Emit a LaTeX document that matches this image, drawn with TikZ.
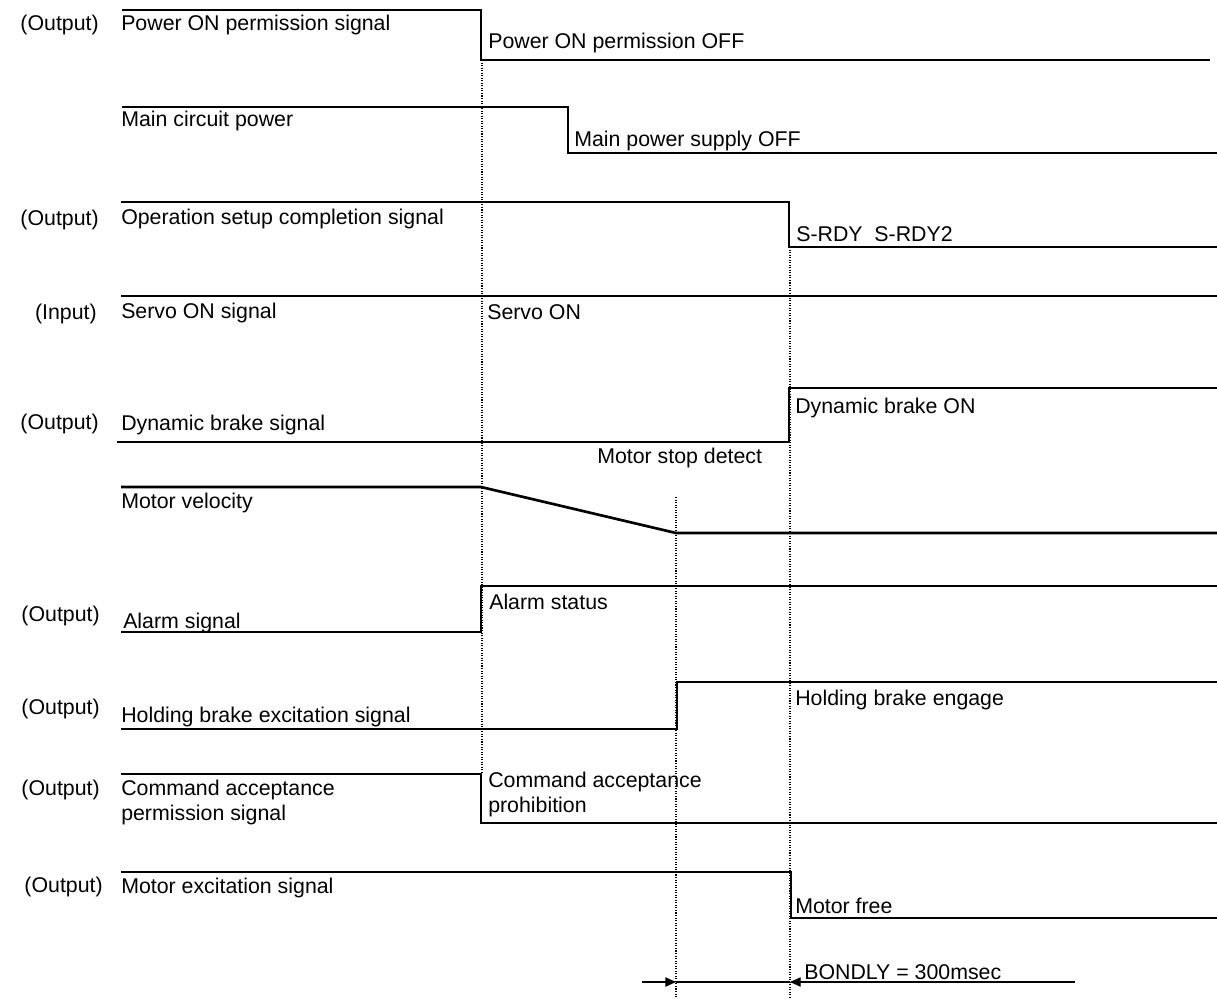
\documentclass[tikz,border=0pt]{standalone}
\usepackage{fontspec}
\setmainfont{Liberation Sans}
\usetikzlibrary{arrows.meta}
\begin{document}
\begin{tikzpicture}[x=0.75pt,y=-0.75pt,
  sig/.style={line width=2pt, line join=miter},
  guide/.style={line width=0.9pt, dash pattern=on 0.8pt off 1.1pt},
  lbl/.style={anchor=base west, inner sep=0pt, align=left,
              font=\fontsize{16}{18.75}\selectfont},
  io/.style={anchor=base east, inner sep=0pt,
             font=\fontsize{16}{18.75}\selectfont},
  dimline/.style={line width=0.8pt},
  tip/.style={-{Triangle[length=8pt,width=7pt]}}]
\useasboundingbox (0,0) rectangle (1217,999);

% dotted guides at the event instants
\draw[guide] (482,60) -- (482,774);
\draw[guide] (676,497) -- (676,999);
\draw[guide] (790,247) -- (790,999);

% Power ON permission signal
\draw[sig] (122,10) -- (481,10) -- (481,60) -- (1210,60);
\node[io]  (io1) at (99,31) {(Output)};
\node[lbl] (s1)  at (121,31) {Power ON permission signal};
\node[lbl] (e1)  at (488,49) {Power ON permission OFF};

% Main circuit power
\draw[sig] (122,107) -- (568,107) -- (568,153) -- (1217,153);
\node[lbl] (s2) at (121,127) {Main circuit power};
\node[lbl] (e2) at (574,146) {Main power supply OFF};

% Operation setup completion signal
\draw[sig] (121,202) -- (789,202) -- (789,247) -- (1217,247);
\node[io]  (io3) at (99,225) {(Output)};
\node[lbl] (s3)  at (121,224) {Operation setup completion signal};
\node[lbl] (e3)  at (796,241) {S-RDY\ \ S-RDY2};

% Servo ON signal
\draw[sig] (121,296) -- (1217,296);
\node[io]  (io4) at (97,319) {(Input)};
\node[lbl] (s4)  at (121,318) {Servo ON signal};
\node[lbl] (e4)  at (487,319) {Servo ON};

% Dynamic brake signal
\draw[sig] (117,442) -- (789,442) -- (789,388) -- (1217,388);
\node[io]  (io5) at (99,429) {(Output)};
\node[lbl] (s5)  at (121,430) {Dynamic brake signal};
\node[lbl] (e5)  at (795,413) {Dynamic brake ON};
\node[lbl] (e5b) at (597,463) {Motor stop detect};

% Motor velocity
\draw[sig] (121,487) -- (481,487) -- (676,533) -- (1217,533);
\node[lbl] (s6) at (121,508) {Motor velocity};

% Alarm signal
\draw[sig] (121,632) -- (481,632) -- (481,586) -- (1217,586);
\node[io]  (io7) at (100,621) {(Output)};
\node[lbl] (s7)  at (123,628) {Alarm signal};
\node[lbl] (e7)  at (489,609) {Alarm status};

% Holding brake excitation signal
\draw[sig] (121,729) -- (677,729) -- (677,682) -- (1217,682);
\node[io]  (io8) at (100,714) {(Output)};
\node[lbl] (s8)  at (121,722) {Holding brake excitation signal};
\node[lbl] (e8)  at (795,705) {Holding brake engage};

% Command acceptance permission signal (two-line labels sit on their last baseline)
\draw[sig] (121,774) -- (481,774) -- (481,823) -- (1217,823);
\node[io]  (io9) at (100,795) {(Output)};
\node[lbl] (s9)  at (121,820) {Command acceptance\\permission signal};
\node[lbl] (e9)  at (488,812) {Command acceptance\\prohibition};

% Motor excitation signal
\draw[sig] (121,872) -- (791,872) -- (791,918) -- (1217,918);
\node[io]  (io10) at (103,892) {(Output)};
\node[lbl] (s10)  at (121,893) {Motor excitation signal};
\node[lbl] (e10)  at (795,913) {Motor free};

% BONDLY interval
\coordinate (dl) at (642,982);
\coordinate (da) at (676,982);
\coordinate (db) at (790,982);
\coordinate (dr) at (1075,982);
\draw[dimline,tip] (dl) -- (da);
\draw[dimline] (da) -- (db);
\draw[dimline,tip] (dr) -- (db);
\node[lbl] (bd) at (804,979) {BONDLY = 300msec};
\end{tikzpicture}
\end{document}
